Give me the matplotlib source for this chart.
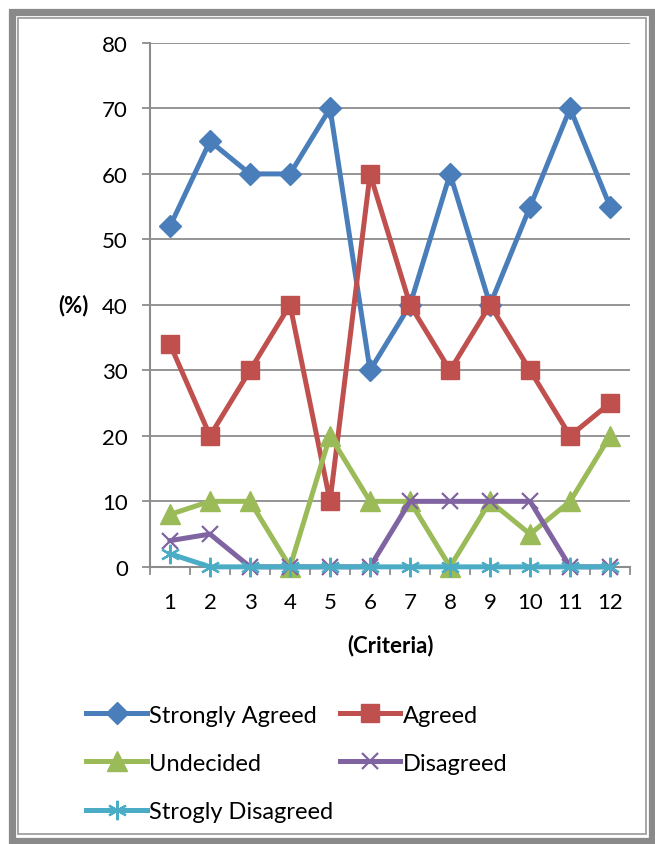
import matplotlib
matplotlib.use('Agg')
import matplotlib.pyplot as plt
from matplotlib.patches import Rectangle

plt.rcParams['font.family'] = ['Lato', 'DejaVu Sans']

criteria = list(range(1, 13))
strongly_agreed = [52, 65, 60, 60, 70, 30, 40, 60, 40, 55, 70, 55]
agreed = [34, 20, 30, 40, 10, 60, 40, 30, 40, 30, 20, 25]
undecided = [8, 10, 10, 0, 20, 10, 10, 0, 10, 5, 10, 20]
disagreed = [4, 5, 0, 0, 0, 0, 10, 10, 10, 10, 0, 0]
strongly_disagreed = [2, 0, 0, 0, 0, 0, 0, 0, 0, 0, 0, 0]
y_ticks = [0, 10, 20, 30, 40, 50, 60, 70, 80]

fig = plt.figure(figsize=(6.55, 8.45), dpi=100)

# grey picture frame: thick outer band, light gap, thin inner line
fig.patches.append(Rectangle((0.0176, 0.0041), 0.9771, 0.9805, transform=fig.transFigure,
                             fill=False, edgecolor='#8a8a8a', linewidth=5.2))
fig.patches.append(Rectangle((0.0280, 0.0120), 0.9590, 0.9650, transform=fig.transFigure,
                             fill=False, edgecolor='#a6a6a6', linewidth=1.4))

ax = fig.add_axes([0.229, 0.328, 0.733, 0.620])

series = [
    ('Strongly Agreed', strongly_agreed, '#4a7ebb', 'D', 11),
    ('Agreed', agreed, '#c0504d', 's', 13.5),
    ('Undecided', undecided, '#9bbb59', '^', 14),
    ('Disagreed', disagreed, '#8064a2', 'x', 12),
    ('Strogly Disagreed', strongly_disagreed, '#4bacc6', (6, 2, 0), 14),
]

handles = {}
for name, vals, color, marker, ms in series:
    thin = marker in ('x', (6, 2, 0))
    line, = ax.plot(criteria, vals, color=color, linewidth=3.6, marker=marker,
                    markersize=ms, markeredgewidth=1.6 if thin else 1,
                    markeredgecolor=color, markerfacecolor=color, label=name,
                    clip_on=False, zorder=3)
    handles[name] = line

ax.set_xlim(0.5, 12.5)
ax.set_ylim(0, 80)
ax.set_yticks(y_ticks)
ax.set_xticks(criteria)
ax.set_xticks([i + 0.5 for i in range(0, 13)], minor=True)
ax.grid(axis='y', color='#8c8c8c', linewidth=1.3)
ax.set_axisbelow(True)
for side in ('top', 'right'):
    ax.spines[side].set_visible(False)
for side in ('left', 'bottom'):
    ax.spines[side].set_color('#8c8c8c')
    ax.spines[side].set_linewidth(1.5)
ax.tick_params(axis='y', length=6, width=1.3, color='#8c8c8c', labelsize=16, pad=10)
ax.tick_params(axis='x', which='major', length=0, labelsize=16, pad=18)
ax.tick_params(axis='x', which='minor', length=6, width=1.3, color='#8c8c8c')

ax.set_ylabel('(%)', rotation=0, fontsize=16, fontweight='bold', va='center')
ax.yaxis.set_label_coords(-0.16, 0.5)
ax.set_xlabel('(Criteria)', fontsize=16, fontweight='bold', labelpad=16)

# row-wise legend order for two columns
order = ['Strongly Agreed', 'Undecided', 'Strogly Disagreed', 'Agreed', 'Disagreed']
fig.legend([handles[n] for n in order], order, ncol=2, frameon=False,
           loc='upper left', bbox_to_anchor=(0.132, 0.165), fontsize=17,
           handlelength=2.55, handletextpad=0.1, columnspacing=0.3,
           labelspacing=1.15, borderaxespad=0, borderpad=0)

plt.savefig('out.png', dpi=100)
